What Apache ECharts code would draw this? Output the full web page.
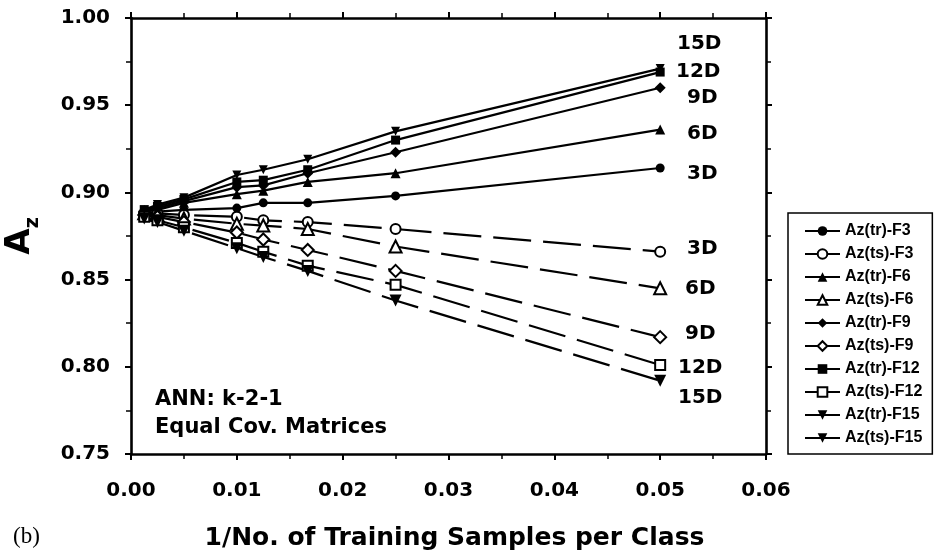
<!DOCTYPE html>
<html>
<head>
<meta charset="utf-8">
<script src="https://cdn.jsdelivr.net/npm/echarts@6/dist/echarts.min.js"></script>
<style>
  html, body { margin: 0; padding: 0; background: #fff; }
  #main { width: 938px; height: 556px; }
</style>
</head>
<body>
<div id="main"></div>
<script>
// x = 1 / no. of training samples per class
var xVals = [0.00125, 0.0025, 0.005, 0.01, 0.0125, 0.0167, 0.025, 0.05];

// training (tr) Az
var tr3  = [0.888, 0.889, 0.890, 0.891, 0.894, 0.894, 0.898, 0.914];
var tr6  = [0.889, 0.890, 0.894, 0.899, 0.901, 0.906, 0.911, 0.936];
var tr9  = [0.889, 0.891, 0.895, 0.903, 0.904, 0.911, 0.923, 0.960];
var tr12 = [0.890, 0.892, 0.896, 0.906, 0.907, 0.913, 0.930, 0.969];
var tr15 = [0.890, 0.893, 0.897, 0.910, 0.913, 0.919, 0.935, 0.971];

// test (ts) Az
var ts3  = [0.888, 0.888, 0.887, 0.886, 0.884, 0.883, 0.879, 0.866];
var ts6  = [0.888, 0.887, 0.885, 0.882, 0.881, 0.879, 0.869, 0.845];
var ts9  = [0.887, 0.886, 0.883, 0.877, 0.873, 0.867, 0.855, 0.817];
var ts12 = [0.886, 0.884, 0.880, 0.871, 0.866, 0.858, 0.847, 0.801];
var ts15 = [0.885, 0.883, 0.878, 0.868, 0.863, 0.855, 0.838, 0.792];

var xTicks = [0.00, 0.01, 0.02, 0.03, 0.04, 0.05, 0.06];
var yTicks = [0.75, 0.80, 0.85, 0.90, 0.95, 1.00];

var dimLabelsTr = ['15D', '12D', '9D', '6D', '3D'];
var dimLabelsTs = ['3D', '6D', '9D', '12D', '15D'];

var FONT = '"DejaVu Sans", sans-serif';

function pairs(ys) {
  return xVals.map(function (x, i) { return [x, ys[i]]; });
}

function mk(name, ys, symbol, size, hollow, dashed, rot) {
  return {
    name: name,
    type: 'line',
    xAxisIndex: 0,
    yAxisIndex: 0,
    data: pairs(ys),
    symbol: symbol,
    symbolSize: size,
    symbolRotate: rot || 0,
    showAllSymbol: true,
    animation: false,
    color: '#000',
    itemStyle: {
      color: hollow ? '#fff' : '#000',
      borderColor: '#000',
      borderWidth: hollow ? 2 : 0
    },
    lineStyle: {
      color: '#000',
      width: 2.2,
      type: dashed ? [38, 12] : 'solid'
    },
    z: 3
  };
}

var chart = echarts.init(document.getElementById('main'));

var axisCommon = {
  axisLine: { show: true, onZero: false, lineStyle: { color: '#000', width: 2.6 } },
  axisTick: { show: true, length: 6, lineStyle: { color: '#000', width: 2 } },
  minorTick: { show: true, splitNumber: 2, length: 5, lineStyle: { color: '#000', width: 1.5 } },
  splitLine: { show: false }
};

var option = {
  backgroundColor: '#fff',
  animation: false,
  grid: { left: 131, right: 172, top: 18, bottom: 102, outerBoundsMode: 'none', containLabel: false },
  legend: {
    orient: 'vertical',
    left: 788,
    top: 213,
    width: 144,
    padding: [10, 10, 8, 16],
    borderColor: '#000',
    borderWidth: 1.5,
    itemWidth: 35,
    itemHeight: 12,
    itemGap: 7,
    lineStyle: { type: 'solid', width: 2 },
    textStyle: {
      fontFamily: '"Liberation Sans", Arial, sans-serif',
      fontWeight: 'bold',
      fontSize: 16,
      lineHeight: 16,
      color: '#000'
    },
    data: ['Az(tr)-F3', 'Az(ts)-F3', 'Az(tr)-F6', 'Az(ts)-F6', 'Az(tr)-F9',
           'Az(ts)-F9', 'Az(tr)-F12', 'Az(ts)-F12', 'Az(tr)-F15', 'Az(ts)-F15']
  },
  xAxis: [
    Object.assign({}, axisCommon, {
      type: 'value',
      position: 'bottom',
      min: 0, max: 0.06, interval: 0.01,
      name: '1/No. of Training Samples per Class',
      nameLocation: 'middle',
      nameGap: 72,
      nameTextStyle: { fontFamily: FONT, fontWeight: 'bold', fontSize: 25, color: '#000', padding: [0, 0, 0, 12] },
      axisLabel: {
        margin: 27,
        fontFamily: FONT, fontWeight: 'bold', fontSize: 20, color: '#000',
        formatter: function (v) { return v.toFixed(2); }
      }
    }),
    Object.assign({}, axisCommon, {
      type: 'value',
      position: 'top',
      min: 0, max: 0.06, interval: 0.01,
      axisLabel: { show: false }
    })
  ],
  yAxis: [
    Object.assign({}, axisCommon, {
      type: 'value',
      position: 'left',
      min: 0.75, max: 1.0, interval: 0.05,
      name: '{a|A}{z|z}',
      nameLocation: 'middle',
      nameRotate: 90,
      nameGap: 88,
      nameTextStyle: {
        rich: {
          a: { fontFamily: FONT, fontWeight: 'bold', fontSize: 34, color: '#000', lineHeight: 40, verticalAlign: 'bottom', padding: [0, 0, 6, 0] },
          z: { fontFamily: FONT, fontWeight: 'bold', fontSize: 19, color: '#000', lineHeight: 40, verticalAlign: 'bottom' }
        }
      },
      axisLabel: {
        margin: 21,
        fontFamily: FONT, fontWeight: 'bold', fontSize: 20, color: '#000',
        formatter: function (v) { return v.toFixed(2); }
      }
    }),
    Object.assign({}, axisCommon, {
      type: 'value',
      position: 'right',
      min: 0.75, max: 1.0, interval: 0.05,
      axisLabel: { show: false }
    })
  ],
  graphic: [
    { type: 'text', left: 155, top: 389, style: { text: 'ANN: k-2-1', font: 'bold 21px ' + FONT, fill: '#000' } },
    { type: 'text', left: 155, top: 417, style: { text: 'Equal Cov. Matrices', font: 'bold 21px ' + FONT, fill: '#000' } },
    { type: 'text', left: 13, top: 525, style: { text: '(b)', font: '23px "Liberation Serif", "DejaVu Serif", serif', fill: '#000' } },
    // dimension labels, training curves
    { type: 'text', left: 677, top: 34, style: { text: dimLabelsTr[0], font: 'bold 20px ' + FONT, fill: '#000' } },
    { type: 'text', left: 676, top: 62, style: { text: dimLabelsTr[1], font: 'bold 20px ' + FONT, fill: '#000' } },
    { type: 'text', left: 687, top: 88, style: { text: dimLabelsTr[2], font: 'bold 20px ' + FONT, fill: '#000' } },
    { type: 'text', left: 687, top: 124, style: { text: dimLabelsTr[3], font: 'bold 20px ' + FONT, fill: '#000' } },
    { type: 'text', left: 687, top: 164, style: { text: dimLabelsTr[4], font: 'bold 20px ' + FONT, fill: '#000' } },
    // dimension labels, test curves
    { type: 'text', left: 687, top: 239, style: { text: dimLabelsTs[0], font: 'bold 20px ' + FONT, fill: '#000' } },
    { type: 'text', left: 685, top: 279, style: { text: dimLabelsTs[1], font: 'bold 20px ' + FONT, fill: '#000' } },
    { type: 'text', left: 685, top: 324, style: { text: dimLabelsTs[2], font: 'bold 20px ' + FONT, fill: '#000' } },
    { type: 'text', left: 678, top: 358, style: { text: dimLabelsTs[3], font: 'bold 20px ' + FONT, fill: '#000' } },
    { type: 'text', left: 678, top: 388, style: { text: dimLabelsTs[4], font: 'bold 20px ' + FONT, fill: '#000' } }
  ],
  series: [
    mk('Az(tr)-F3', tr3, 'circle', 9, false, false),
    mk('Az(ts)-F3', ts3, 'circle', 10, true, true),
    mk('Az(tr)-F6', tr6, 'triangle', 10, false, false),
    mk('Az(ts)-F6', ts6, 'triangle', 12, true, true),
    mk('Az(tr)-F9', tr9, 'diamond', 11, false, false),
    mk('Az(ts)-F9', ts9, 'diamond', 12, true, true),
    mk('Az(tr)-F12', tr12, 'rect', 9, false, false),
    mk('Az(ts)-F12', ts12, 'rect', 10, true, true),
    mk('Az(tr)-F15', tr15, 'triangle', 9, false, false, 180),
    mk('Az(ts)-F15', ts15, 'triangle', 12, false, true, 180)
  ]
};

chart.setOption(option);
</script>
</body>
</html>
